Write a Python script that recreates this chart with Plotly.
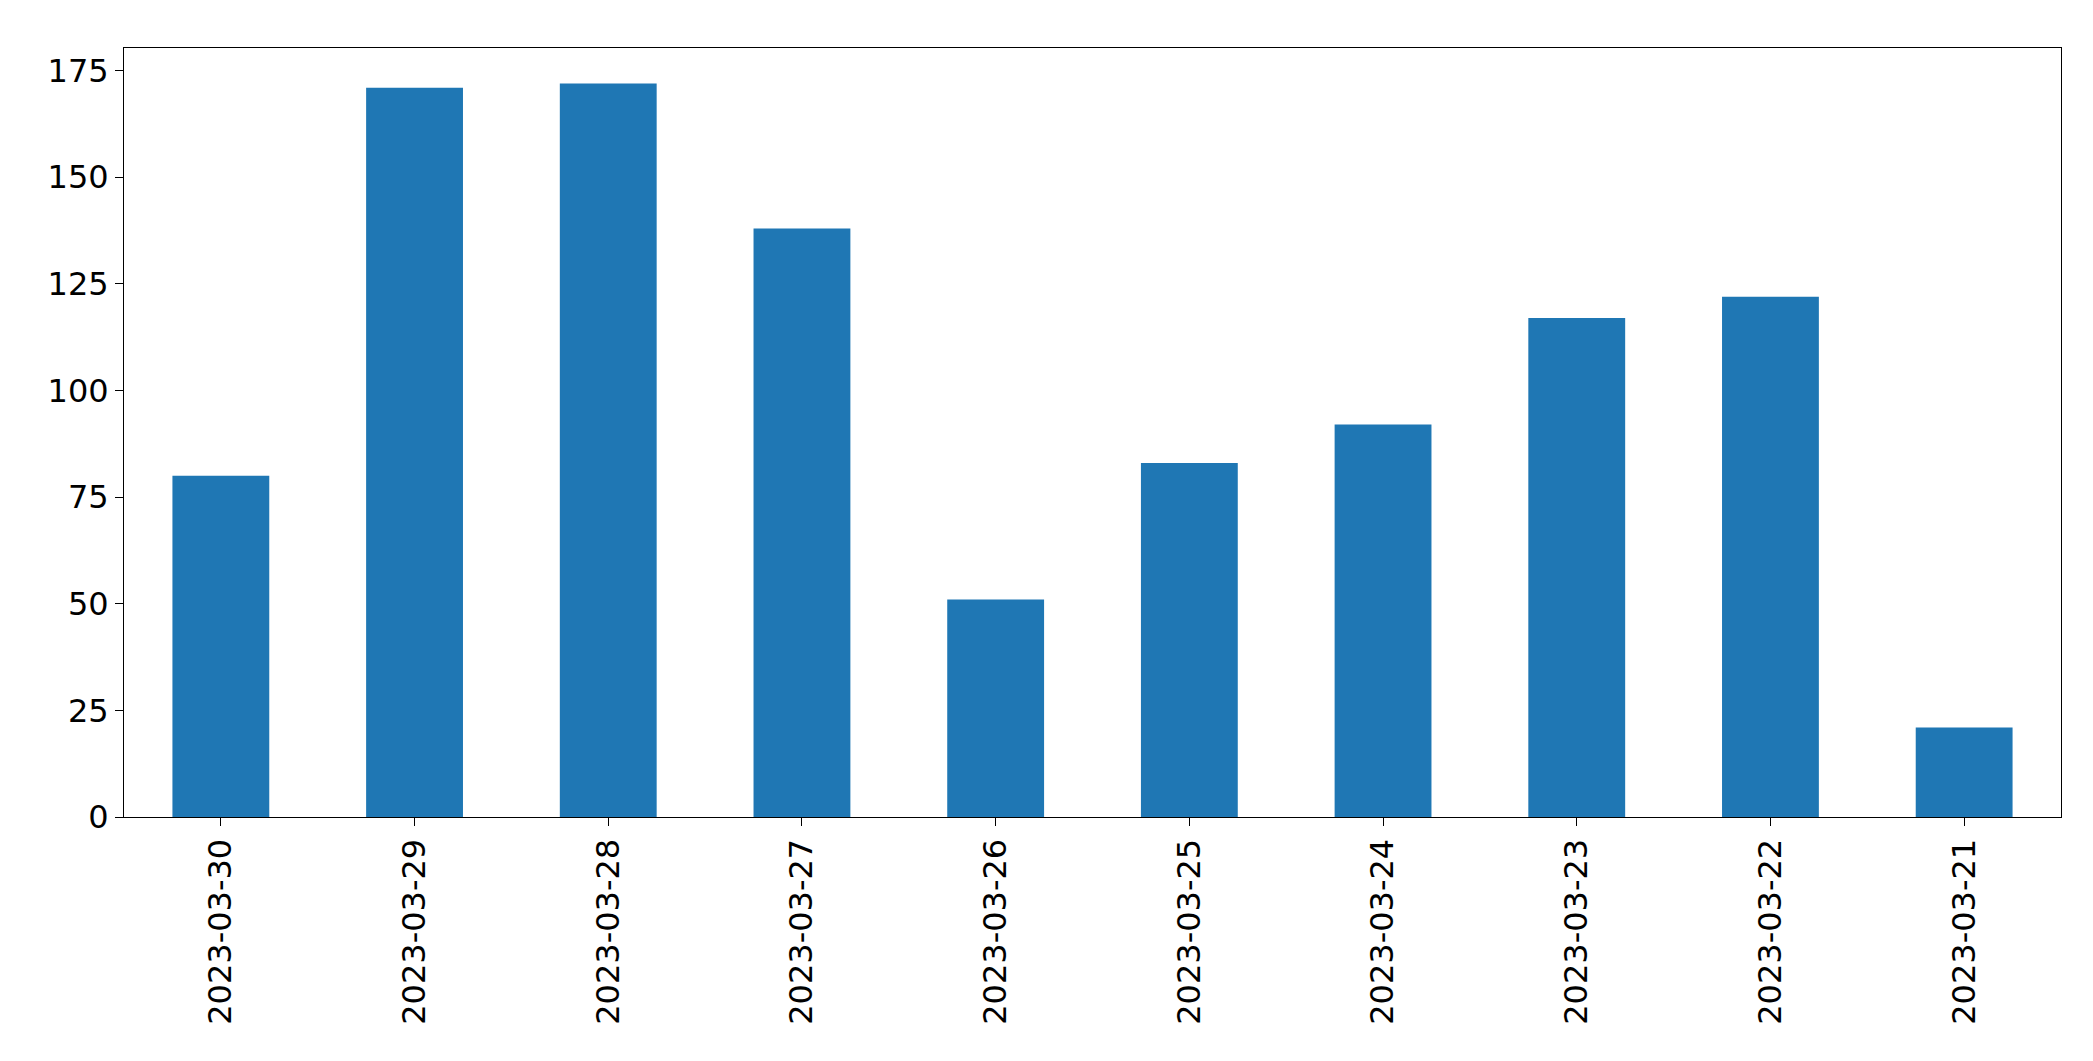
import plotly.graph_objects as go

dates = ["2023-03-30","2023-03-29","2023-03-28","2023-03-27","2023-03-26",
         "2023-03-25","2023-03-24","2023-03-23","2023-03-22","2023-03-21"]
counts = [80, 171, 172, 138, 51, 83, 92, 117, 122, 21]

fig = go.Figure(go.Bar(x=dates, y=counts, width=0.5, marker=dict(color="#1f77b4", line=dict(width=0))))
fig.update_layout(
    width=2093, height=1061,
    margin=dict(l=116, r=40, t=40, b=252),
    plot_bgcolor="white", paper_bgcolor="white",
    font=dict(family="DejaVu Sans", size=32, color="black"),
    showlegend=False, bargap=0.5,
)
fig.update_xaxes(type="category", range=[-0.5, 9.5], tickangle=-90,
                 showline=True, linecolor="black", mirror=True, linewidth=1,
                 ticks="outside", ticklen=8, tickcolor="black", showgrid=False)
fig.update_yaxes(range=[0, 180.3], tickvals=[0,25,50,75,100,125,150,175],
                 showline=True, linecolor="black", mirror=True, linewidth=1,
                 ticks="outside", ticklen=8, tickcolor="black", showgrid=False, zeroline=False)
fig.write_html("out.html")
